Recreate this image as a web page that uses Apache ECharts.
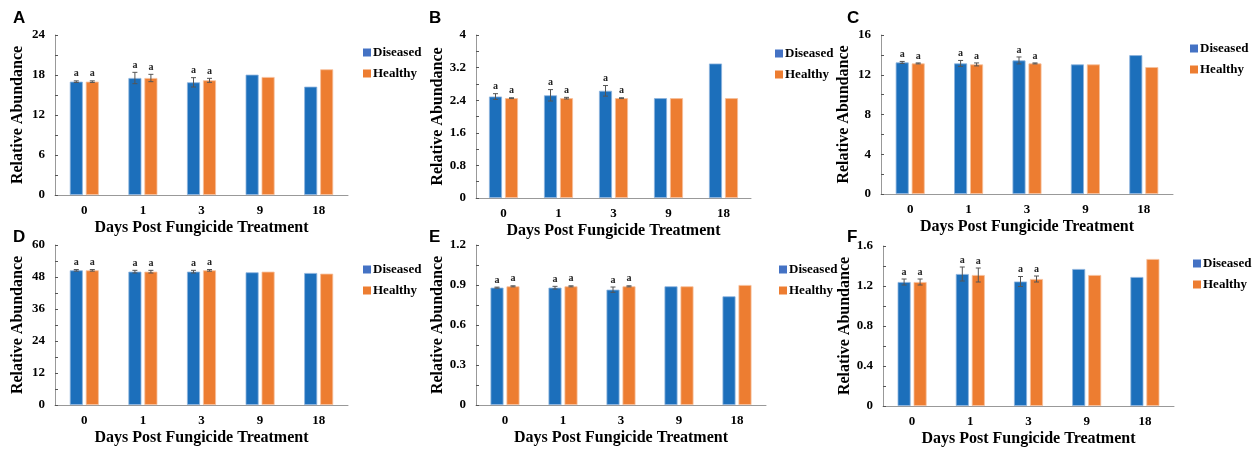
<!DOCTYPE html>
<html>
<head>
<meta charset="utf-8">
<script src="https://cdn.jsdelivr.net/npm/echarts@6/dist/echarts.min.js"></script>
<style>
html,body{margin:0;padding:0;background:#fff;}
#main{width:1254px;height:452px;}
</style>
</head>
<body>
<div id="main"></div>
<script>
// x categories: days after fungicide
var days = ['0', '1', '3', '9', '18'];

// panel A
var diseasedA = [17.0, 17.55, 16.9, 18.05, 16.25];
var healthyA = [17.0, 17.55, 17.2, 17.7, 18.85];
var errDiseasedA = [0.12, 0.85, 0.7];
var errHealthyA = [0.12, 0.55, 0.3];
// panel B
var diseasedB = [2.49, 2.52, 2.63, 2.45, 3.30];
var healthyB = [2.45, 2.45, 2.45, 2.45, 2.45];
var errDiseasedB = [0.07, 0.14, 0.13];
var errHealthyB = [0.01, 0.02, 0.01];
// panel C
var diseasedC = [13.24, 13.14, 13.44, 13.04, 13.97];
var healthyC = [13.14, 13.04, 13.14, 13.04, 12.77];
var errDiseasedC = [0.1, 0.3, 0.35];
var errHealthyC = [0.05, 0.15, 0.05];
// panel D
var diseasedD = [50.5, 50.0, 50.0, 49.75, 49.5];
var healthyD = [50.5, 50.0, 50.5, 50.0, 49.25];
var errDiseasedD = [0.3, 0.5, 0.5];
var errHealthyD = [0.3, 0.5, 0.3];
// panel E
var diseasedE = [0.88, 0.88, 0.865, 0.89, 0.815];
var healthyE = [0.89, 0.89, 0.89, 0.89, 0.90];
var errDiseasedE = [0.004, 0.01, 0.02];
var errHealthyE = [0.004, 0.004, 0.004];
// panel F
var diseasedF = [1.24, 1.32, 1.245, 1.37, 1.29];
var healthyF = [1.24, 1.31, 1.27, 1.31, 1.47];
var errDiseasedF = [0.03, 0.07, 0.05];
var errHealthyF = [0.03, 0.07, 0.03];

// y axis scales
var yMax = [24, 4, 16, 60, 1.2, 1.6];
var yStep = [6, 0.8, 4, 12, 0.3, 0.4];
var letters = ['A', 'B', 'C', 'D', 'E', 'F'];
var sigLetter = 'a';

var panels = [
  {d: diseasedA, h: healthyA, ed: errDiseasedA, eh: errHealthyA},
  {d: diseasedB, h: healthyB, ed: errDiseasedB, eh: errHealthyB},
  {d: diseasedC, h: healthyC, ed: errDiseasedC, eh: errHealthyC},
  {d: diseasedD, h: healthyD, ed: errDiseasedD, eh: errHealthyD},
  {d: diseasedE, h: healthyE, ed: errDiseasedE, eh: errHealthyE},
  {d: diseasedF, h: healthyF, ed: errDiseasedF, eh: errHealthyF}
];

// layout of each panel (pixels)
var grids = [
  {left: 55, top: 35, width: 293, height: 160},
  {left: 476, top: 35, width: 275, height: 163},
  {left: 881, top: 35, width: 292, height: 159},
  {left: 55, top: 245, width: 293, height: 160},
  {left: 476, top: 245, width: 290, height: 160},
  {left: 883, top: 246, width: 291, height: 160}
];
var legendPos = [
  {left: 358, top: 41}, {left: 770, top: 42}, {left: 1185, top: 37},
  {left: 358, top: 258}, {left: 774, top: 258}, {left: 1188, top: 252}
];
var letterPos = [[13, 10], [429, 10], [847, 10], [13, 229], [429, 229], [847, 229]];

var blue = '#1c6fbb', orange = '#ed7d31';
var serif = 'Liberation Serif';
var BW = 13, OFF = 8;

var option = {
  backgroundColor: '#fff',
  animation: false,
  grid: [], xAxis: [], yAxis: [], series: [], legend: [], graphic: []
};

function errorItem(params, api) {
  var cat = api.value(0), v = api.value(1), e = api.value(2), side = api.value(3);
  var p = api.coord([cat, v]);
  var hi = api.coord([cat, v + e]);
  var lo = api.coord([cat, v - e]);
  var x = p[0] + side * OFF;
  return {
    type: 'group',
    children: [
      {type: 'line', shape: {x1: x, y1: hi[1], x2: x, y2: lo[1]}, style: {stroke: '#555', lineWidth: 1}},
      {type: 'line', shape: {x1: x - 2.5, y1: hi[1], x2: x + 2.5, y2: hi[1]}, style: {stroke: '#555', lineWidth: 1}},
      {type: 'line', shape: {x1: x - 2.5, y1: lo[1], x2: x + 2.5, y2: lo[1]}, style: {stroke: '#555', lineWidth: 1}},
      {type: 'text', style: {x: x, y: hi[1] - 2, text: sigLetter, align: 'center', verticalAlign: 'bottom',
        fill: '#222', font: 'bold 10px ' + serif}}
    ]
  };
}

panels.forEach(function (pn, i) {
  option.grid.push(grids[i]);
  option.xAxis.push({
    type: 'category', gridIndex: i, data: days,
    name: 'Days Post Fungicide Treatment', nameLocation: 'middle', nameGap: 25,
    nameTextStyle: {fontFamily: serif, fontWeight: 'bold', fontSize: 16, color: '#000'},
    axisLine: {lineStyle: {color: '#999'}},
    axisTick: {inside: true, length: 3, lineStyle: {color: '#555'}},
    axisLabel: {margin: 9, fontFamily: serif, fontWeight: 'bold', fontSize: 13, color: '#000'}
  });
  option.yAxis.push({
    type: 'value', gridIndex: i, min: 0, max: yMax[i], interval: yStep[i],
    name: 'Relative Abundance', nameLocation: 'middle', nameGap: 29,
    nameTextStyle: {fontFamily: serif, fontWeight: 'bold', fontSize: 16, color: '#000'},
    axisLine: {show: true, lineStyle: {color: '#999'}},
    axisTick: {show: true, inside: true, length: 3, lineStyle: {color: '#555'}},
    minorTick: {show: true, splitNumber: 2, length: 3, lineStyle: {color: '#555'}},
    splitLine: {show: false},
    axisLabel: {margin: 10, fontFamily: serif, fontWeight: 'bold', fontSize: 13, color: '#000'}
  });
  option.series.push({
    name: 'Diseased', type: 'bar', xAxisIndex: i, yAxisIndex: i, data: pn.d,
    barWidth: BW, barGap: '23%',
    itemStyle: {color: blue, borderColor: '#8db4dd', borderWidth: 0.8}
  });
  option.series.push({
    name: 'Healthy', type: 'bar', xAxisIndex: i, yAxisIndex: i, data: pn.h,
    barWidth: BW, barGap: '23%',
    itemStyle: {color: orange, borderColor: '#f6c09c', borderWidth: 0.8}
  });
  var errData = [];
  for (var k = 0; k < pn.ed.length; k++) {
    errData.push([k, pn.d[k], pn.ed[k], -1]);
    errData.push([k, pn.h[k], pn.eh[k], 1]);
  }
  option.series.push({
    type: 'custom', xAxisIndex: i, yAxisIndex: i, data: errData, z: 5,
    renderItem: errorItem
  });
  option.legend.push({
    left: legendPos[i].left, top: legendPos[i].top, orient: 'vertical',
    selectedMode: false, itemWidth: 8, itemHeight: 8, itemGap: 8, icon: 'rect',
    textStyle: {fontFamily: serif, fontWeight: 'bold', fontSize: 13, color: '#000', padding: [0, 0, 0, -3]},
    data: [
      {name: 'Diseased', itemStyle: {color: '#4472c4', borderWidth: 0}},
      {name: 'Healthy', itemStyle: {color: orange, borderWidth: 0}}
    ]
  });
  option.graphic.push({
    type: 'text', left: letterPos[i][0], top: letterPos[i][1],
    style: {text: letters[i], font: 'bold 17px "Liberation Sans"', fill: '#000'}
  });
});

var chart = echarts.init(document.getElementById('main'));
chart.setOption(option);
</script>
</body>
</html>
